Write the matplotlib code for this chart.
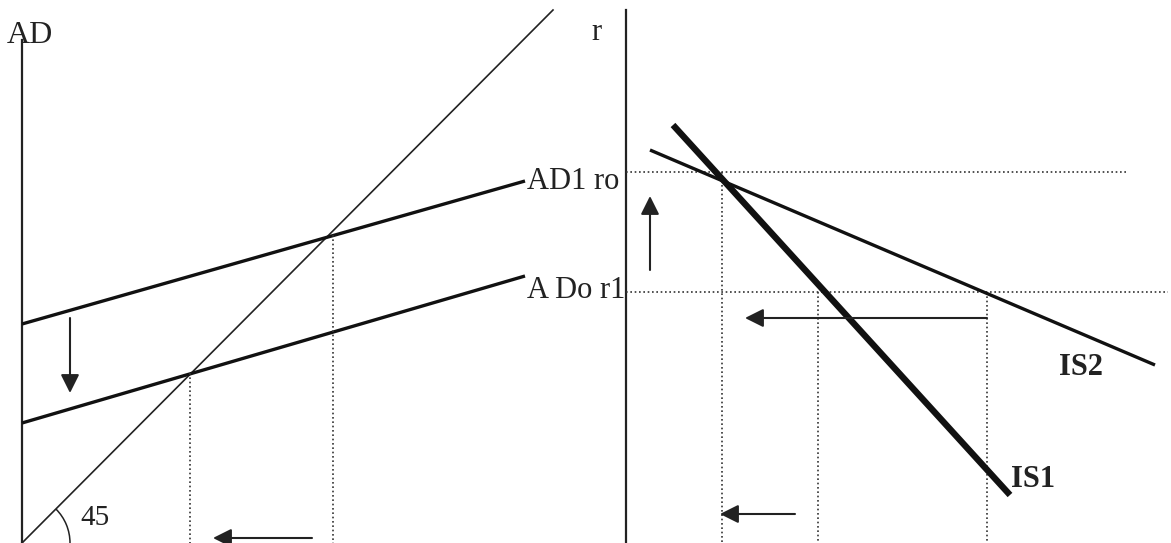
import matplotlib
matplotlib.use("Agg")
import matplotlib.pyplot as plt
from matplotlib.patches import Arc

plt.rcParams['font.family'] = 'Liberation Serif'

# everything is in picture pixels (x right, y down)
W, H = 1171, 543

# left panel: AD vs income
ad_axis = ([22, 22], [40, 543])
line45 = ([22, 553], [543, 10])
ad1 = ([22, 525], [324, 181])
ad0 = ([22, 525], [423, 276])
ad_drops_x = [190, 333]
ad_drops_top = [373, 235]

# right panel: r vs income
r_axis = ([626, 626], [10, 543])
is1 = ([673, 1010], [125, 495])
is2 = ([650, 1155], [150, 365])
r_levels_y = [172, 292]
r_levels_end = [1128, 1168]
is_drops_x = [722, 818, 987]
is_drops_top = [172, 292, 292]

# arrows: (tail, head)
arrows = [
    ((70, 318), (70, 393)),
    ((312, 538), (213, 538)),
    ((650, 270), (650, 196)),
    ((987, 318), (745, 318)),
    ((795, 514), (720, 514)),
]

fig = plt.figure(figsize=(W / 100, H / 100), dpi=100)
ax = fig.add_axes([0, 0, 1, 1])
ax.set_xlim(0, W)
ax.set_ylim(H, 0)
ax.axis('off')

dot = dict(color='#333333', lw=1.2, linestyle=(0, (1, 1.6)))

# axes
ax.plot(*ad_axis, color='#222222', lw=1.6)
ax.plot(*r_axis, color='#222222', lw=1.6)

# left panel curves
ax.plot(*line45, color='#222222', lw=1.2)
ax.plot(*ad1, color='#111111', lw=2.4, solid_capstyle='butt')
ax.plot(*ad0, color='#111111', lw=2.4, solid_capstyle='butt')
for x, top in zip(ad_drops_x, ad_drops_top):
    ax.plot([x, x], [top, H], **dot)

# 45 degree angle mark (y axis is flipped, so the angles go negative)
ax.add_patch(Arc((22, 543), 96, 96, theta1=315, theta2=360, color='#222222', lw=1.1))
ax.text(80, 525, "45", fontsize=21, ha='left', va='baseline', color='#222222')

# right panel curves
for y, end in zip(r_levels_y, r_levels_end):
    ax.plot([626, end], [y, y], **dot)
for x, top in zip(is_drops_x, is_drops_top):
    ax.plot([x, x], [top, H], **dot)
ax.plot(*is2, color='#111111', lw=2.4, solid_capstyle='butt')
ax.plot(*is1, color='#111111', lw=4.6, solid_capstyle='butt')

for tail, head in arrows:
    ax.annotate("", xy=head, xytext=tail,
                arrowprops=dict(arrowstyle='-|>', color='#222222', lw=1.5,
                                mutation_scale=28, shrinkA=0, shrinkB=0))

# labels
ax.text(7, 43, "AD", fontsize=23, ha='left', va='baseline', color='#222222')
ax.text(591, 40, "r", fontsize=22, ha='left', va='baseline', color='#222222')
ax.text(527, 189, "AD1 ro", fontsize=22, ha='left', va='baseline', color='#222222')
ax.text(527, 298, "A Do r1", fontsize=22, ha='left', va='baseline', color='#222222')
ax.text(1059, 375, "IS2", fontsize=22, fontweight='bold', ha='left', va='baseline', color='#222222')
ax.text(1011, 487, "IS1", fontsize=22, fontweight='bold', ha='left', va='baseline', color='#222222')

fig.savefig("out.png", dpi=100)
